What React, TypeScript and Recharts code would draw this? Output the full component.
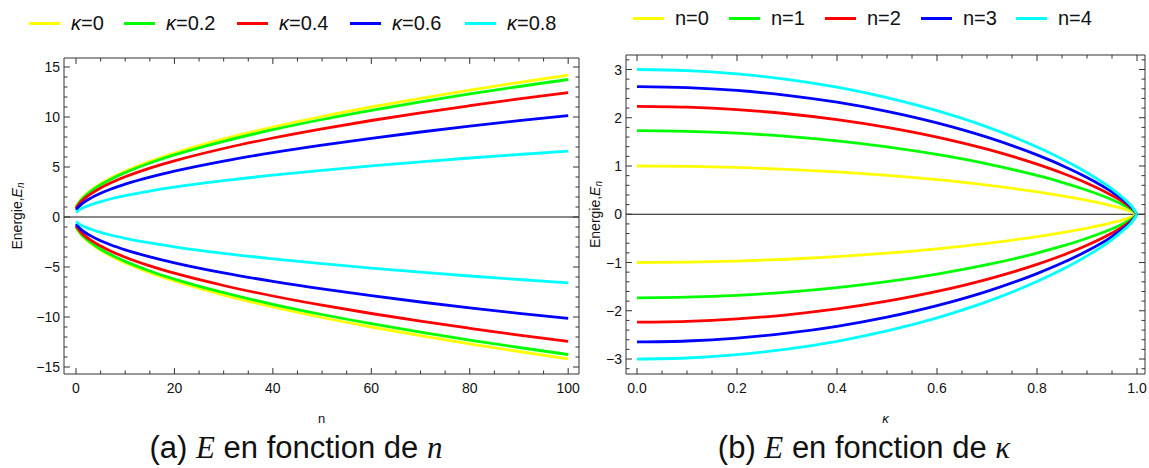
import React from "react"
import { LineChart, Line, XAxis, YAxis, ReferenceLine, Legend, Label } from "recharts"

// (a) energy vs n, one curve pair per kappa
const nValues = [0, 1, 2, 3, 5, 7, 10, 15, 20, 30, 40, 50, 60, 70, 80, 90, 100]
const upK0 = [1.0, 1.73, 2.24, 2.65, 3.32, 3.87, 4.58, 5.57, 6.4, 7.81, 9.0, 10.05, 11.0, 11.87, 12.69, 13.45, 14.18]
const upK02 = [0.97, 1.68, 2.17, 2.57, 3.22, 3.76, 4.44, 5.4, 6.21, 7.57, 8.73, 9.75, 10.67, 11.52, 12.31, 13.05, 13.75]
const upK04 = [0.88, 1.52, 1.96, 2.32, 2.91, 3.4, 4.02, 4.89, 5.62, 6.85, 7.9, 8.82, 9.65, 10.42, 11.13, 11.81, 12.44]
const upK06 = [0.72, 1.24, 1.6, 1.89, 2.37, 2.77, 3.28, 3.98, 4.58, 5.59, 6.44, 7.19, 7.87, 8.5, 9.08, 9.63, 10.14]
const upK08 = [0.46, 0.81, 1.04, 1.23, 1.54, 1.8, 2.13, 2.59, 2.98, 3.63, 4.18, 4.67, 5.11, 5.52, 5.9, 6.25, 6.59]
const lowK0 = [-1.0, -1.73, -2.24, -2.65, -3.32, -3.87, -4.58, -5.57, -6.4, -7.81, -9.0, -10.05, -11.0, -11.87, -12.69, -13.45, -14.18]
const lowK02 = [-0.97, -1.68, -2.17, -2.57, -3.22, -3.76, -4.44, -5.4, -6.21, -7.57, -8.73, -9.75, -10.67, -11.52, -12.31, -13.05, -13.75]
const lowK04 = [-0.88, -1.52, -1.96, -2.32, -2.91, -3.4, -4.02, -4.89, -5.62, -6.85, -7.9, -8.82, -9.65, -10.42, -11.13, -11.81, -12.44]
const lowK06 = [-0.72, -1.24, -1.6, -1.89, -2.37, -2.77, -3.28, -3.98, -4.58, -5.59, -6.44, -7.19, -7.87, -8.5, -9.08, -9.63, -10.14]
const lowK08 = [-0.46, -0.81, -1.04, -1.23, -1.54, -1.8, -2.13, -2.59, -2.98, -3.63, -4.18, -4.67, -5.11, -5.52, -5.9, -6.25, -6.59]

// (b) energy vs kappa, one curve pair per n
const kappaValues = [0, 0.1, 0.2, 0.3, 0.4, 0.5, 0.6, 0.7, 0.8, 0.85, 0.9, 0.95, 0.98, 0.99, 1.0]
const upN0 = [1.0, 0.993, 0.97, 0.932, 0.877, 0.806, 0.716, 0.604, 0.465, 0.382, 0.288, 0.175, 0.089, 0.053, 0]
const upN1 = [1.732, 1.719, 1.68, 1.614, 1.52, 1.396, 1.239, 1.045, 0.805, 0.662, 0.498, 0.302, 0.154, 0.092, 0]
const upN2 = [2.236, 2.219, 2.168, 2.083, 1.962, 1.802, 1.6, 1.349, 1.039, 0.855, 0.644, 0.39, 0.199, 0.118, 0]
const upN3 = [2.646, 2.626, 2.566, 2.465, 2.322, 2.132, 1.893, 1.597, 1.23, 1.012, 0.762, 0.462, 0.235, 0.14, 0]
const upN4 = [3.0, 2.978, 2.909, 2.795, 2.632, 2.418, 2.147, 1.811, 1.394, 1.147, 0.863, 0.524, 0.266, 0.159, 0]
const lowN0 = [-1.0, -0.993, -0.97, -0.932, -0.877, -0.806, -0.716, -0.604, -0.465, -0.382, -0.288, -0.175, -0.089, -0.053, 0]
const lowN1 = [-1.732, -1.719, -1.68, -1.614, -1.52, -1.396, -1.239, -1.045, -0.805, -0.662, -0.498, -0.302, -0.154, -0.092, 0]
const lowN2 = [-2.236, -2.219, -2.168, -2.083, -1.962, -1.802, -1.6, -1.349, -1.039, -0.855, -0.644, -0.39, -0.199, -0.118, 0]
const lowN3 = [-2.646, -2.626, -2.566, -2.465, -2.322, -2.132, -1.893, -1.597, -1.23, -1.012, -0.762, -0.462, -0.235, -0.14, 0]
const lowN4 = [-3.0, -2.978, -2.909, -2.795, -2.632, -2.418, -2.147, -1.811, -1.394, -1.147, -0.863, -0.524, -0.266, -0.159, 0]

const kappaNames = ["κ=0", "κ=0.2", "κ=0.4", "κ=0.6", "κ=0.8"]
const levelNames = ["n=0", "n=1", "n=2", "n=3", "n=4"]
const colors = ["#ffff00", "#00ff00", "#ff0000", "#0000ff", "#00ffff"]

const nMajorTicks = [0, 20, 40, 60, 80, 100]
const energyNMajorTicks = [-15, -10, -5, 0, 5, 10, 15]
const kappaMajorTicks = [0, 0.2, 0.4, 0.6, 0.8, 1.0]
const energyKMajorTicks = [-3, -2, -1, 0, 1, 2, 3]

const FONT = "'Liberation Sans', Arial, sans-serif"
const SERIF = "'Liberation Serif', 'Times New Roman', serif"
const FRAME = "#333"

function steps(from: number, to: number, step: number) {
  const out: number[] = []
  for (let i = 0; from + i * step <= to + 1e-9; i++) {
    out.push(Math.round((from + i * step) * 1000) / 1000)
  }
  return out
}

const isMajor = (v: number, majors: number[]) => majors.some((m) => Math.abs(m - v) < 1e-6)
const fmtInt = (v: number) => (v < 0 ? "\u2212" + Math.abs(v) : String(v))
const fmtDec = (v: number) => (v < 0 ? "\u2212" + Math.abs(v).toFixed(1) : v.toFixed(1))

function buildRows(xKey: string, xs: number[], ups: number[][], lows: number[][]) {
  return xs.map((x, i) => {
    const row: Record<string, number> = { [xKey]: x }
    ups.forEach((s, j) => (row[`up${j}`] = s[i]))
    lows.forEach((s, j) => (row[`low${j}`] = s[i]))
    return row
  })
}

const leftData = buildRows("n", nValues, [upK0, upK02, upK04, upK06, upK08], [lowK0, lowK02, lowK04, lowK06, lowK08])
const rightData = buildRows("k", kappaValues, [upN0, upN1, upN2, upN3, upN4], [lowN0, lowN1, lowN2, lowN3, lowN4])

// inward frame ticks, labels only on the bottom and left sides
function makeTick(side: string, majors: number[], fmt?: (v: number) => string) {
  return (p: any) => {
    const { x, y, payload } = p
    const v = payload.value
    const major = isMajor(v, majors)
    const len = major ? 6 : 3.5
    let x2 = x
    let y2 = y
    if (side === "bottom") y2 = y - len
    if (side === "top") y2 = y + len
    if (side === "left") x2 = x + len
    if (side === "right") x2 = x - len
    return (
      <g>
        <line x1={x} y1={y} x2={x2} y2={y2} stroke={FRAME} strokeWidth={1} />
        {major && fmt && side === "bottom" && (
          <text x={x} y={y + 19} textAnchor="middle" fontSize={14} fontFamily={FONT} fill="#111">
            {fmt(v)}
          </text>
        )}
        {major && fmt && side === "left" && (
          <text x={x - 4} y={y} dy="0.36em" textAnchor="end" fontSize={14} fontFamily={FONT} fill="#111">
            {fmt(v)}
          </text>
        )}
      </g>
    )
  }
}

function legendContent(itemX: number[]) {
  return (props: any) => {
    const items = (props.payload || []).filter((p: any) => p.type !== "none")
    return (
      <div style={{ position: "relative", height: 24, fontFamily: FONT, fontSize: 20, lineHeight: "24px", color: "#111", whiteSpace: "nowrap" }}>
        {items.map((p: any, i: number) => {
          const text = String(p.value)
          return (
            <div key={text} style={{ position: "absolute", left: itemX[i], top: 0, display: "flex", alignItems: "center" }}>
              <span style={{ display: "inline-block", flexShrink: 0, width: 31, height: 3, background: p.color, marginRight: 11 }} />
              {text.startsWith("κ") ? (
                <span>
                  <i>κ</i>
                  {text.slice(1)}
                </span>
              ) : (
                <span>{text}</span>
              )}
            </div>
          )
        })}
      </div>
    )
  }
}

interface PanelProps {
  data: Record<string, number>[]
  xKey: string
  names: string[]
  width: number
  margin: { top: number; right: number; bottom: number; left: number }
  xDomain: [number, number]
  yDomain: [number, number]
  xTicks: number[]
  yTicks: number[]
  xMajors: number[]
  yMajors: number[]
  xFmt: (v: number) => string
  yFmt: (v: number) => string
  xTitle: React.ReactNode
  yTitleX: number
  legendTop: number
  legendX: number[]
}

function Panel(props: PanelProps) {
  const { margin, width } = props
  const height = 468
  const plotLeft = margin.left + 1
  const plotRight = width - margin.right - 1
  const plotTop = margin.top + 1
  const plotBottom = height - margin.bottom - 26
  const midX = (plotLeft + plotRight) / 2
  const midY = (plotTop + plotBottom) / 2

  return (
    <LineChart width={width} height={height} data={props.data} margin={margin}>
      <XAxis
        xAxisId="b"
        dataKey={props.xKey}
        type="number"
        domain={props.xDomain}
        allowDataOverflow
        ticks={props.xTicks}
        interval={0}
        height={26}
        tickSize={0}
        tickMargin={0}
        tickLine={false}
        axisLine={{ stroke: FRAME }}
        tick={makeTick("bottom", props.xMajors, props.xFmt)}
      >
        <Label
          content={() => (
            <text x={midX} y={plotBottom + 49} textAnchor="middle" fontSize={13} fontFamily={FONT} fill="#111">
              {props.xTitle}
            </text>
          )}
        />
      </XAxis>
      <XAxis
        xAxisId="t"
        orientation="top"
        dataKey={props.xKey}
        type="number"
        domain={props.xDomain}
        allowDataOverflow
        ticks={props.xTicks}
        interval={0}
        height={1}
        tickSize={0}
        tickMargin={0}
        tickLine={false}
        axisLine={{ stroke: FRAME }}
        tick={makeTick("top", props.xMajors)}
      />
      <YAxis
        yAxisId="l"
        type="number"
        domain={props.yDomain}
        allowDataOverflow
        ticks={props.yTicks}
        interval={0}
        width={1}
        tickSize={0}
        tickMargin={0}
        tickLine={false}
        axisLine={{ stroke: FRAME }}
        tick={makeTick("left", props.yMajors, props.yFmt)}
      >
        <Label
          content={() => (
            <text
              x={props.yTitleX}
              y={midY}
              transform={`rotate(-90 ${props.yTitleX} ${midY})`}
              textAnchor="middle"
              dominantBaseline="central"
              fontSize={14}
              fontFamily={FONT}
              fill="#111"
            >
              Energie,<tspan fontStyle="italic">E</tspan>
              <tspan fontStyle="italic" fontSize={10} dy={3}>
                n
              </tspan>
            </text>
          )}
        />
      </YAxis>
      <YAxis
        yAxisId="r"
        orientation="right"
        type="number"
        domain={props.yDomain}
        allowDataOverflow
        ticks={props.yTicks}
        interval={0}
        width={1}
        tickSize={0}
        tickMargin={0}
        tickLine={false}
        axisLine={{ stroke: FRAME }}
        tick={makeTick("right", props.yMajors)}
      />
      <ReferenceLine xAxisId="b" yAxisId="l" y={0} stroke="#111" strokeWidth={1} />
      {props.names.map((name, j) => (
        <Line
          key={`up${j}`}
          xAxisId="b"
          yAxisId="l"
          type="monotone"
          dataKey={`up${j}`}
          name={name}
          stroke={colors[j]}
          strokeWidth={2.8}
          dot={false}
          isAnimationActive={false}
        />
      ))}
      {props.names.map((name, j) => (
        <Line
          key={`low${j}`}
          xAxisId="b"
          yAxisId="l"
          type="monotone"
          dataKey={`low${j}`}
          name={name + " "}
          legendType="none"
          stroke={colors[j]}
          strokeWidth={2.8}
          dot={false}
          isAnimationActive={false}
        />
      ))}
      <Legend
        verticalAlign="middle"
        align="center"
        layout="horizontal"
        content={legendContent(props.legendX)}
        wrapperStyle={{ top: props.legendTop, left: 0, width: width, height: 24 }}
      />
    </LineChart>
  )
}

export default function App() {
  return (
    <div style={{ position: "absolute", left: 0, top: 0, width: 1149, height: 468, background: "#fff", overflow: "hidden" }}>
      <div style={{ position: "absolute", left: 0, top: 0 }}>
        <Panel
          data={leftData}
          xKey="n"
          names={kappaNames}
          width={590}
          margin={{ top: 57, right: 10, bottom: 68, left: 63 }}
          xDomain={[-2.44, 102.2]}
          yDomain={[-15.7, 15.9]}
          xTicks={steps(0, 100, 5)}
          yTicks={steps(-15, 15, 1)}
          xMajors={nMajorTicks}
          yMajors={energyNMajorTicks}
          xFmt={fmtInt}
          yFmt={fmtInt}
          xTitle="n"
          yTitleX={17}
          legendTop={11}
          legendX={[29, 124, 237, 350, 465]}
        />
      </div>
      <div style={{ position: "absolute", left: 580, top: 0 }}>
        <Panel
          data={rightData}
          xKey="k"
          names={levelNames}
          width={569}
          margin={{ top: 54, right: 3, bottom: 68, left: 45 }}
          xDomain={[-0.022, 1.016]}
          yDomain={[-3.31, 3.3]}
          xTicks={steps(0, 1, 0.05)}
          yTicks={steps(-3.2, 3.2, 0.2)}
          xMajors={kappaMajorTicks}
          yMajors={energyKMajorTicks}
          xFmt={fmtDec}
          yFmt={fmtInt}
          xTitle={<tspan fontStyle="italic">κ</tspan>}
          yTitleX={15}
          legendTop={6}
          legendX={[53, 149, 245, 341, 436]}
        />
      </div>
      <svg width={1149} height={468} style={{ position: "absolute", left: 0, top: 0, pointerEvents: "none" }}>
        <text x={296} y={458} textAnchor="middle" fontSize={31} fontFamily={FONT} fill="#111">
          (a) <tspan fontFamily={SERIF} fontStyle="italic">E</tspan> en fonction de{" "}
          <tspan fontFamily={SERIF} fontStyle="italic">n</tspan>
        </text>
        <text x={864} y={458} textAnchor="middle" fontSize={31} fontFamily={FONT} fill="#111">
          (b) <tspan fontFamily={SERIF} fontStyle="italic">E</tspan> en fonction de{" "}
          <tspan fontFamily={SERIF} fontStyle="italic">κ</tspan>
        </text>
      </svg>
    </div>
  )
}
